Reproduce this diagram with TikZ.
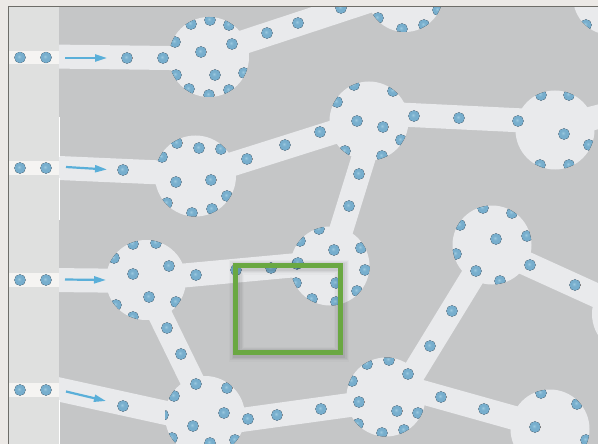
\documentclass[tikz,border=0pt]{standalone}
\usetikzlibrary{arrows.meta}
\definecolor{bgout}{HTML}{ECE9E6}
\definecolor{wall}{HTML}{C5C6C7}
\definecolor{flow}{HTML}{E9EAEC}
\definecolor{stripc}{HTML}{DFE0DF}
\definecolor{bandc}{HTML}{F5F4F2}
\definecolor{dotin}{HTML}{9CCAE0}
\definecolor{dotmid}{HTML}{77AECD}
\definecolor{dotout}{HTML}{5A93B8}
\definecolor{arrowc}{HTML}{5AAFD9}
\definecolor{boxg}{HTML}{6AA842}
\definecolor{framec}{HTML}{6E6D68}
\pgfdeclareradialshading{beadshade}{\pgfpoint{-5bp}{5bp}}{color(0bp)=(dotin); color(10bp)=(dotmid); color(22bp)=(dotmid); color(25bp)=(dotout); color(50bp)=(dotout)}
\tikzset{
  channel/.style={line width=24pt, draw=flow, line cap=butt},
  chamber/.style={fill=flow},
  bead/.style={shading=beadshade},
  inarrow/.style={draw=arrowc, line width=2.2pt, -{Triangle[length=12pt,width=7pt]}},
  boxstyle/.style={draw=boxg, line width=5pt},
}
\begin{document}
\begin{tikzpicture}[x=1pt,y=-1pt]
\useasboundingbox (0,0) rectangle (598,444);
\fill[bgout] (0,0) rectangle (598,444);
\begin{scope}
\clip (9,7) rectangle (598,444);
\fill[wall] (9,7) rectangle (598,444);
% chamber centres
\coordinate (c1) at (209,57);
\coordinate (c2) at (405,-6);
\coordinate (c3) at (611,-3);
\coordinate (c4) at (369,121);
\coordinate (c5) at (555,130);
\coordinate (c6) at (195.5,176);
\coordinate (c7) at (330,266);
\coordinate (c8) at (492,245);
\coordinate (c9) at (632,314);
\coordinate (c10) at (146,280);
\coordinate (c11) at (205,416);
\coordinate (c12) at (386,397);
\coordinate (c13) at (550,429);
% channel ends
\coordinate (in1a) at (50,56.5);  \coordinate (in1b) at (209,58.5);
\coordinate (in2a) at (50,167.6); \coordinate (in2b) at (195,174);
\coordinate (in3a) at (50,280);   \coordinate (in3b) at (146,281);
\coordinate (in4a) at (50,387.5); \coordinate (in4b) at (205,421.5);
\coordinate (k12a) at (209,53.5); \coordinate (k12b) at (405,-11);
\coordinate (k64a) at (195,176);  \coordinate (k64b) at (369,121);
\coordinate (k45a) at (369,113);  \coordinate (k45b) at (555,122);
\coordinate (k5ra) at (555,128);  \coordinate (k5rb) at (640,106);
\coordinate (k47a) at (375,121);  \coordinate (k47b) at (330,266);
\coordinate (k107a) at (146,279); \coordinate (k107b) at (330,262);
\coordinate (k1011a) at (143,280); \coordinate (k1011b) at (210,417);
\coordinate (k1112a) at (205,425); \coordinate (k1112b) at (386,400);
\coordinate (k128a) at (399,397); \coordinate (k128b) at (492,245);
\coordinate (k1213a) at (386,382); \coordinate (k1213b) at (550,428);
\coordinate (k89a) at (492,248); \coordinate (k89b) at (635,313);
% channels
\foreach \a/\b in {in1a/in1b,in2a/in2b,in3a/in3b,in4a/in4b,k12a/k12b,k64a/k64b,k45a/k45b,k5ra/k5rb,k47a/k47b,k107a/k107b,k1011a/k1011b,k1112a/k1112b,k128a/k128b,k1213a/k1213b,k89a/k89b}
  \draw[channel] (\a) -- (\b);
% chambers
\foreach \c/\r in {c1/40,c2/38,c3/38,c4/39.5,c5/39.5,c6/40.5,c7/39.5,c8/39.5,c9/40,c10/40,c11/40,c12/39.5,c13/39.5}
  \fill[chamber] (\c) circle (\r);
% channel beads
\foreach \p in {(127,58),(163,58),(123,170),(123,406),(267,33),(298,23),(341,8),(247,159),(285,145),(320,132),(414,116),(459,118),(518,121),(359,174),(349,206),(196,275),(236,270),(271,268),(297,264),(167,328),(181,354),(248,419),(277,415),(321,409),(430,346),(452,311),(476,271),(441,397),(484,409),(530,265),(575,285)}
  \fill[bead] \p circle (5.6);
% chamber beads, clipped to their chamber
\begin{scope}\clip (c1) circle (40);
\foreach \p in {(210,20),(191,24),(229,25),(175,42),(232,44),(201,52),(176,75),(215,75),(244,73),(189,89),(209,95),(229,90)} \fill[bead] \p circle (5.6);
\end{scope}
\begin{scope}\clip (c2) circle (38);
\foreach \p in {(378,18),(402,29),(424,25),(438,10)} \fill[bead] \p circle (5.6);
\end{scope}
\begin{scope}\clip (c3) circle (38);
\foreach \p in {(586,25)} \fill[bead] \p circle (5.6);
\end{scope}
\begin{scope}\clip (c4) circle (39.5);
\foreach \p in {(354,85),(393,91),(337,102),(357,121),(383,127),(345,151),(401,140),(382,156)} \fill[bead] \p circle (5.6);
\end{scope}
\begin{scope}\clip (c5) circle (39.5);
\foreach \p in {(541,95),(569,95),(564,134),(589,145),(540,165),(569,165)} \fill[bead] \p circle (5.6);
\end{scope}
\begin{scope}\clip (c6) circle (40.5);
\foreach \p in {(177,143),(199,148),(221,149),(162,157),(176,182),(211,180),(227,196),(167,203),(192,213),(212,209)} \fill[bead] \p circle (5.6);
\end{scope}
\begin{scope}\clip (c7) circle (39.5);
\foreach \p in {(319,229),(300,241),(334,250),(361,248),(298,263),(365,270),(336,283),(296,283),(357,291),(312,299),(336,302)} \fill[bead] \p circle (5.6);
\end{scope}
\begin{scope}\clip (c8) circle (39.5);
\foreach \p in {(483,208),(512,213),(460,225),(527,236),(496,239),(456,254),(500,281)} \fill[bead] \p circle (5.6);
\end{scope}
\begin{scope}\clip (c10) circle (40);
\foreach \p in {(133,244),(156,243),(114,258),(169,266),(133,274),(149,297),(176,302),(116,305),(133,317)} \fill[bead] \p circle (5.6);
\end{scope}
\begin{scope}\clip (c11) circle (40);
\foreach \p in {(196,384),(227,388),(174,396),(224,413),(163,415),(193,426),(172,438),(210,443),(235,440)} \fill[bead] \p circle (5.6);
\end{scope}
\begin{scope}\clip (c12) circle (39.5);
\foreach \p in {(367,364),(389,360),(352,381),(408,374),(359,402),(397,411),(418,413),(358,424),(382,433),(404,430)} \fill[bead] \p circle (5.6);
\end{scope}
\begin{scope}\clip (c13) circle (39.5);
\foreach \p in {(541,393),(577,404),(535,427),(586,440)} \fill[bead] \p circle (5.6);
\end{scope}
% inlet strip
\fill[stripc] (9,7) rectangle (59,444);
\foreach \y/\h in {51/13,161/14,273/14,383/14}
  \fill[bandc] (9,\y) rectangle ++(50,\h);
\draw[white, line width=1pt] (59.3,117) -- (59.3,157) (59.3,178) -- (59.3,220) (59.3,400) -- (59.3,444);
\foreach \p in {(20,57.5),(46,57.5),(20,168),(46,168),(20,280),(46,280),(20,390),(46,390)}
  \fill[bead] \p circle (5.6);
% inlet arrows
\coordinate (a1s) at (65,58);    \coordinate (a1e) at (107,58);
\coordinate (a2s) at (66,167);   \coordinate (a2e) at (107,169.5);
\coordinate (a3s) at (65,279.5); \coordinate (a3e) at (106,280);
\coordinate (a4s) at (66,391.5); \coordinate (a4e) at (106,401);
\foreach \s/\e in {a1s/a1e,a2s/a2e,a3s/a3e,a4s/a4e}
  \draw[inarrow] (\s) -- (\e);
% highlighted window with soft shadow
\coordinate (bx1) at (235.5,265.5);
\coordinate (bx2) at (340.5,352.5);
\foreach \w/\o in {15/0.02,12.5/0.03,10/0.04,7.5/0.05}
  \draw[black, opacity=\o, line width=\w pt] ([shift={(1,1.5)}]bx1) rectangle ([shift={(1,1.5)}]bx2);
\draw[boxstyle] (bx1) rectangle (bx2);
\end{scope}
% frame
\draw[framec, line width=1.2pt] (8.6,444) -- (8.6,6.6) -- (598,6.6);
\end{tikzpicture}
\end{document}
